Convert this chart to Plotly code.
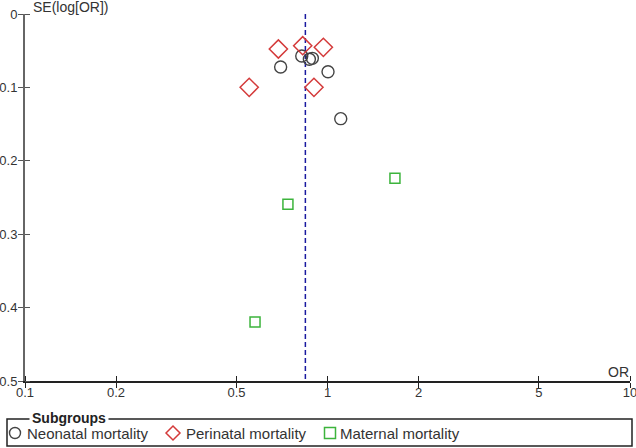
import plotly.graph_objects as go

# Data
neo_or = [0.700, 0.822, 0.871, 0.891, 1.004, 1.106]
neo_se = [0.0722, 0.0572, 0.0617, 0.0604, 0.0786, 0.1426]
peri_or = [0.688, 0.828, 0.969, 0.902, 0.551]
peri_se = [0.0477, 0.0432, 0.0454, 0.0999, 0.0999]
mat_or = [0.740, 1.671, 0.576]
mat_se = [0.2593, 0.2238, 0.4196]
pooled_or = 0.845
x_ticks = [0.1, 0.2, 0.5, 1, 2, 5, 10]
x_ticklabels = ["0.1", "0.2", "0.5", "1", "2", "5", "10"]
y_ticks = [0, 0.1, 0.2, 0.3, 0.4, 0.5]
y_ticklabels = ["0", "0.1", "0.2", "0.3", "0.4", "0.5"]
group_names = ["Neonatal mortality", "Perinatal mortality", "Maternal mortality"]

FONT = "Liberation Sans, Arial, sans-serif"
C_NEO, C_PERI, C_MAT = "#444444", "#d43a3a", "#3cb43c"

W, H = 636, 448
ML, MR, MT, MB = 25, 6, 14, 67
PW, PH = W - ML - MR, H - MT - MB


def px(x):
    return (x - ML) / PW


def py(y):
    return (H - MB - y) / PH


fig = go.Figure()
fig.add_trace(go.Scatter(
    x=[pooled_or, pooled_or], y=[0, 0.5], mode="lines",
    line=dict(color="#1a1aa0", width=1.5, dash="5px,3px"),
    showlegend=False, hoverinfo="skip"))
fig.add_trace(go.Scatter(
    x=neo_or, y=neo_se, mode="markers", name=group_names[0], showlegend=False,
    marker=dict(symbol="circle-open", size=12, color=C_NEO, line=dict(width=1.4))))
fig.add_trace(go.Scatter(
    x=peri_or, y=peri_se, mode="markers", name=group_names[1], showlegend=False,
    marker=dict(symbol="diamond-open", size=14, color=C_PERI, line=dict(width=1.5))))
fig.add_trace(go.Scatter(
    x=mat_or, y=mat_se, mode="markers", name=group_names[2], showlegend=False,
    marker=dict(symbol="square-open", size=10, color=C_MAT, line=dict(width=1.5))))

fig.update_layout(
    width=W, height=H,
    margin=dict(l=ML, r=MR, t=MT, b=MB, autoexpand=False),
    paper_bgcolor="white", plot_bgcolor="white",
    font=dict(family=FONT, size=12, color="#333333"),
    xaxis=dict(type="log", range=[-1, 1], showgrid=False, zeroline=False, automargin=False,
               showline=True, linecolor="#222222", linewidth=1.5,
               tickvals=x_ticks, ticktext=x_ticklabels,
               ticks="outside", ticklen=5, tickcolor="#222222",
               minor=dict(tickvals=x_ticks, ticks="inside", ticklen=5, tickcolor="#222222"),
               ticklabelstandoff=-6, ticklabeloverflow="allow",
               tickfont=dict(size=13, color="#333333")),
    yaxis=dict(range=[0.5, 0], showgrid=False, zeroline=False, automargin=False,
               showline=True, linecolor="#666666", linewidth=2,
               tickvals=y_ticks, ticktext=y_ticklabels,
               ticks="outside", ticklen=5, tickcolor="#555555",
               minor=dict(tickvals=y_ticks, ticks="inside", ticklen=5, tickcolor="#555555"),
               ticklabelstandoff=-2, ticklabeloverflow="allow",
               tickfont=dict(size=13, color="#333333")),
)

fig.add_annotation(text="SE(log[OR])", xref="paper", yref="paper", x=px(31), y=py(7),
                   xanchor="left", yanchor="middle", showarrow=False,
                   font=dict(size=14, color="#333333"))
fig.add_annotation(text="OR", xref="paper", yref="paper", x=px(631), y=py(372),
                   xanchor="right", yanchor="middle", showarrow=False,
                   font=dict(size=14, color="#333333"))

# custom legend frame with title breaking the border
fig.add_shape(type="rect", xref="paper", yref="paper",
              x0=px(7), x1=px(632), y0=py(446), y1=py(419),
              line=dict(color="#222222", width=1.5), fillcolor="rgba(0,0,0,0)")
fig.add_annotation(text="<b>Subgroups</b>", xref="paper", yref="paper", x=px(29), y=py(418),
                   xanchor="left", yanchor="middle", showarrow=False, bgcolor="white",
                   borderpad=2, font=dict(size=14, color="#222222"))

LY = 433
# circle symbol
fig.add_shape(type="circle", xref="paper", yref="paper",
              x0=px(15 - 5.5), x1=px(15 + 5.5), y0=py(LY + 5.5), y1=py(LY - 5.5),
              line=dict(color=C_NEO, width=1.4))
# diamond symbol
dx, dy = 173, LY
fig.add_shape(type="path", xref="paper", yref="paper",
              path=(f"M {px(dx - 7)},{py(dy)} L {px(dx)},{py(dy - 7)} "
                    f"L {px(dx + 7)},{py(dy)} L {px(dx)},{py(dy + 7)} Z"),
              line=dict(color=C_PERI, width=1.5))
# square symbol
fig.add_shape(type="rect", xref="paper", yref="paper",
              x0=px(330 - 5.5), x1=px(330 + 5.5), y0=py(LY + 5.5), y1=py(LY - 5.5),
              line=dict(color=C_MAT, width=1.5))
for name, xl in zip(group_names, [25, 184, 338]):
    fig.add_annotation(text=name, xref="paper", yref="paper", x=px(xl), y=py(LY),
                       xanchor="left", yanchor="middle", showarrow=False,
                       font=dict(size=15, color="#333333"))

fig.write_html("out.html", config={"displayModeBar": False},
               post_script="document.body.style.margin='0px';")
